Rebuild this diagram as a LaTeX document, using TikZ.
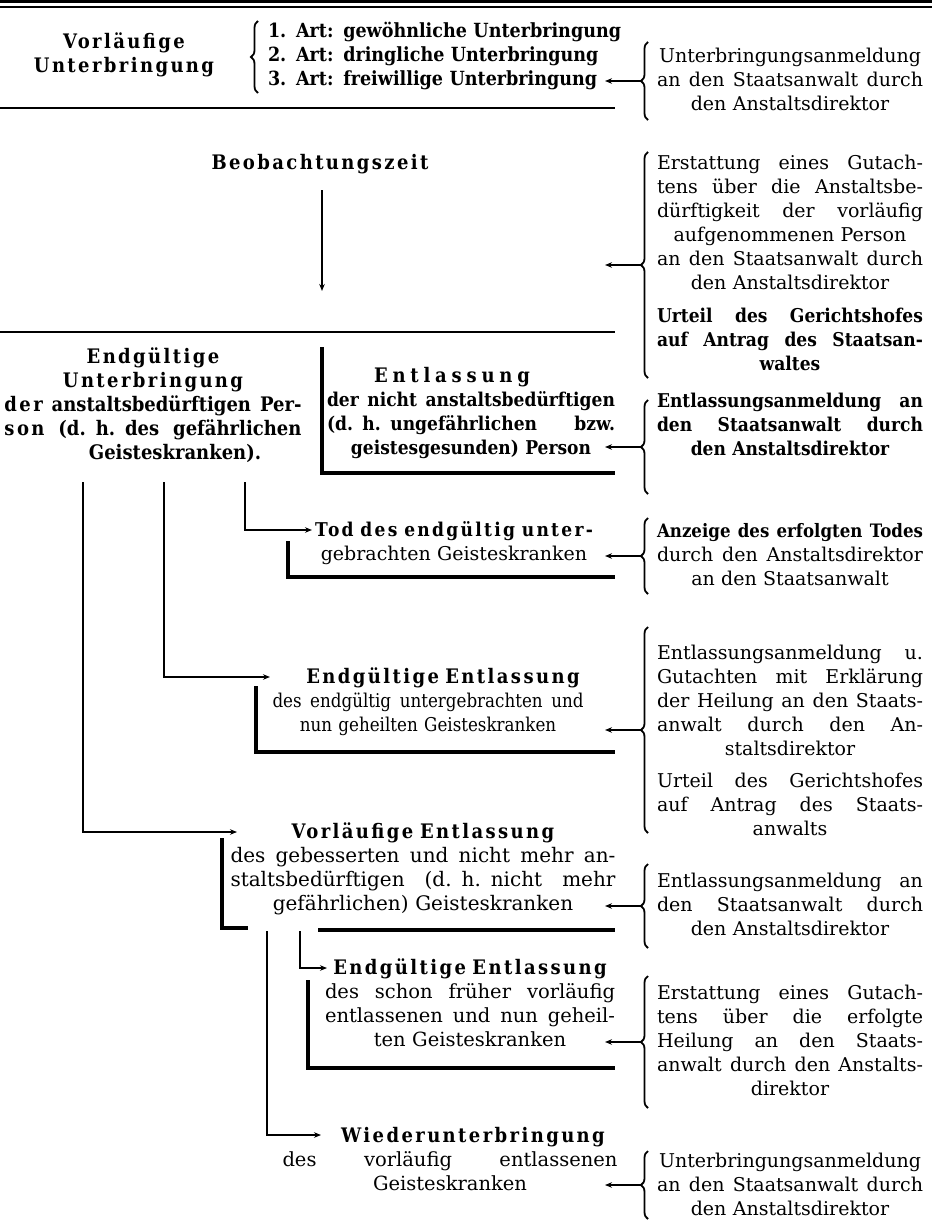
\documentclass[tikz,border=0pt]{standalone}
\usepackage{fontspec}
\setmainfont[BoldFeatures={FakeStretch=0.9}]{DejaVu Serif}
\newfontfamily\sperr[LetterSpace=12,BoldFeatures={FakeStretch=0.9}]{DejaVu Serif}
\newfontfamily\sperrw[LetterSpace=24,BoldFeatures={FakeStretch=0.9}]{DejaVu Serif}
\newfontfamily\cnd[FakeStretch=0.88]{DejaVu Serif}
\usetikzlibrary{decorations.pathreplacing,arrows.meta}
\newcommand\J[1]{\leavevmode\hbox to \hsize{\spaceskip=.3em plus 1fil minus .06em\relax #1}}
\newcommand\fs[1]{\fontsize{#1}{24}\selectfont}
\begin{document}
\begin{tikzpicture}[x=1pt,y=-1pt,
  tx/.style={inner sep=0pt,outer sep=0pt,align=center,anchor=base,execute at begin node=\strut},
  rt/.style={tx,text width=266pt,font=\fs{19}},
  rulel/.style={line width=2pt},
  boxl/.style={line width=3.4pt},
  arr/.style={line width=1.3pt,-{Stealth[length=7pt,width=5.5pt]}},
  brc/.style={line width=1.8pt,decorate,decoration={brace,amplitude=7pt,aspect=0.5}},
]
\useasboundingbox (0,0) rectangle (932,1220);
\fill[white] (0,0) rectangle (932,1220);

% top double rule
\draw[line width=3pt] (0,1.5) -- (932,1.5);
\draw[line width=1.2pt] (0,7) -- (932,7);

% ---------- Vorlaeufige Unterbringung
\node[tx,text width=220pt,font=\fs{20}\bfseries\sperr] (vu) at (124,49) {Vorläufige\\Unterbringung};
\node[tx,anchor=base west,align=left,text width=360pt,font=\fs{19.5}\bfseries] (list) at (268,38)
  {1. Art: gewöhnliche Unterbringung\\2. Art: dringliche Unterbringung\\3. Art: freiwillige Unterbringung};
\draw[brc] (258,93) -- (258,21);

\node[rt] (r1) at (790,63) {Unterbringungsanmeldung\\ \J{an den Staatsanwalt durch}\\ den Anstaltsdirektor};
\draw[brc] (648,120) -- (648,42);
\coordinate (t1) at (641,81);
\draw[arr] (t1) -- ++(-36,0);
\draw[rulel] (0,108) -- (615,108);

% ---------- Beobachtungszeit
\node[tx,text width=300pt,font=\fs{20}\bfseries\sperr] (beob) at (320,169) {Beobachtungszeit};
\coordinate (b1) at (322,190);
\coordinate (b2) at (322,291);
\draw[arr] (b1) -- (b2);

\node[rt] (r2) at (790,169) {\J{Erstattung eines Gutach-}\\ \J{tens über die Anstaltsbe-}\\ \J{dürftigkeit der vorläufig}\\ aufgenommenen Person\\ \J{an den Staatsanwalt durch}\\ den Anstaltsdirektor};
\node[rt,font=\fs{19}\bfseries] (r2b) at (790,322) {\J{Urteil des Gerichtshofes}\\ \J{auf Antrag des Staatsan-}\\ waltes};
\draw[brc] (648,378) -- (648,152);
\coordinate (t2) at (641,265);
\draw[arr] (t2) -- ++(-36,0);
\draw[rulel] (0,332) -- (615,332);

% ---------- Endgueltige Unterbringung
\node[tx,text width=297pt,font=\fs{20}\bfseries] (eu) at (153,363)
  {{\sperr Endgültige}\\ {\sperr Unterbringung}\\ \J{{\sperr der} anstaltsbedürftigen Per-}\\ \J{{\sperr son} (d. h. des gefährlichen}\\ \hspace*{44pt}Geisteskranken).};

% Entlassung
\node[tx,text width=288pt,font=\fs{19}\bfseries] (ent) at (471,382)
  {{\fs{20}\sperrw\hspace*{-38pt}Entlassung}\\ \J{der nicht anstaltsbedürftigen}\\ \J{(d. h. ungefährlichen bzw.}\\ geistesgesunden) Person};
\draw[boxl] (322,347) -- (322,473) -- (615,473);
\node[rt,font=\fs{19}\bfseries] (r4) at (790,407) {\J{Entlassungsanmeldung an}\\ \J{den Staatsanwalt durch}\\ den Anstaltsdirektor};
\draw[brc] (648,494) -- (648,400);
\coordinate (t4) at (641,447);
\draw[arr] (t4) -- ++(-36,0);

% Tod
\coordinate (v3a) at (245,482);
\coordinate (v3b) at (312,530);
\draw[arr] (v3a) |- (v3b);
\node[tx,text width=278pt,font=\fs{19}] (tod) at (454,536)
  {\J{\bfseries\sperr Tod des endgültig unter-}\\ gebrachten Geisteskranken};
\draw[boxl] (288,541) -- (288,577) -- (615,577);
\node[rt] (r5) at (790,537) {\J{\fs{18.5}\bfseries Anzeige des erfolgten Todes}\\ \J{durch den Anstaltsdirektor}\\ an den Staatsanwalt};
\draw[brc] (648,594) -- (648,518);
\coordinate (t5) at (641,556);
\draw[arr] (t5) -- ++(-36,0);

% Endgueltige Entlassung 1
\coordinate (v2a) at (164,482);
\coordinate (v2b) at (270,677);
\draw[arr] (v2a) |- (v2b);
\node[tx,text width=311pt,font=\fs{19}\cnd] (ee1) at (428,683)
  {{\fs{20}\bfseries\sperr\hspace*{30pt}Endgültige Entlassung}\\ \J{des endgültig untergebrachten und}\\ nun geheilten Geisteskranken};
\draw[boxl] (256,686) -- (256,752) -- (615,752);
\node[rt] (r6) at (790,659) {\J{Entlassungsanmeldung u.}\\ \J{Gutachten mit Erklärung}\\ \J{der Heilung an den Staats-}\\ \J{anwalt durch den An-}\\ staltsdirektor};
\node[rt] (r6b) at (790,787) {\J{Urteil des Gerichtshofes}\\ \J{auf Antrag des Staats-}\\ anwalts};
\draw[brc] (648,833) -- (648,627);
\coordinate (t6) at (641,730);
\draw[arr] (t6) -- ++(-36,0);

% Vorlaeufige Entlassung
\coordinate (v1a) at (83,482);
\coordinate (v1b) at (237,832);
\draw[arr] (v1a) |- (v1b);
\node[tx,text width=385pt,font=\fs{20}] (ve) at (423,838)
  {{\bfseries\sperr Vorläufige Entlassung}\\ \J{des gebesserten und nicht mehr an-}\\ \J{staltsbedürftigen (d. h. nicht mehr}\\ gefährlichen) Geisteskranken};
\draw[boxl] (222,838) -- (222,928) -- (248,928);
\draw[boxl] (318,930) -- (615,930);
\node[rt] (r7) at (790,887) {\J{Entlassungsanmeldung an}\\ \J{den Staatsanwalt durch}\\ den Anstaltsdirektor};
\draw[brc] (648,948) -- (648,864);
\coordinate (t7) at (641,906);
\draw[arr] (t7) -- ++(-36,0);

% Endgueltige Entlassung 2
\coordinate (v5a) at (300,931);
\coordinate (v5b) at (327,968);
\draw[arr] (v5a) |- (v5b);
\node[tx,text width=290pt,font=\fs{19.5}] (ee2) at (470,974)
  {{\fs{20}\bfseries\sperr Endgültige Entlassung}\\ \J{des schon früher vorläufig}\\ \J{entlassenen und nun geheil-}\\ ten Geisteskranken};
\draw[boxl] (308,980) -- (308,1068) -- (615,1068);
\node[rt] (r8) at (790,999) {\J{Erstattung eines Gutach-}\\ \J{tens über die erfolgte}\\ \J{Heilung an den Staats-}\\ \J{anwalt durch den Anstalts-}\\ direktor};
\draw[brc] (648,1108) -- (648,976);
\coordinate (t8) at (641,1042);
\draw[arr] (t8) -- ++(-36,0);

% Wiederunterbringung
\coordinate (v4a) at (267,931);
\coordinate (v4b) at (321,1135);
\draw[arr] (v4a) |- (v4b);
\node[tx,text width=335pt,font=\fs{19.5}] (wu) at (450,1142)
  {{\fs{20}\bfseries\sperr\hspace*{46pt}Wiederunterbringung}\\ \J{des vorläufig entlassenen}\\ Geisteskranken};
\node[rt] (r9) at (790,1167) {Unterbringungsanmeldung\\ \J{an den Staatsanwalt durch}\\ den Anstaltsdirektor};
\draw[brc] (648,1219) -- (648,1151);
\coordinate (t9) at (641,1185);
\draw[arr] (t9) -- ++(-36,0);
\end{tikzpicture}
\end{document}
